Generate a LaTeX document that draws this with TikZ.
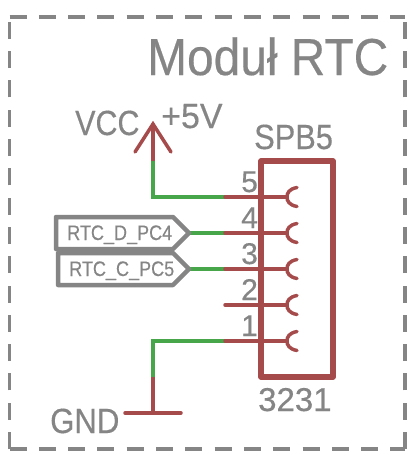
\documentclass[tikz,border=0pt]{standalone}
\usepackage{fontspec}
\setmainfont{Liberation Sans}
\definecolor{wirered}{HTML}{A54B4B}
\definecolor{wiregreen}{HTML}{47A64A}
\definecolor{ink}{HTML}{858585}
\tikzset{
  redline/.style={draw=wirered,line width=3.5pt,line cap=round},
  greenline/.style={draw=wiregreen,line width=3.5pt,line join=miter},
  framebox/.style={draw=ink,line width=3.5pt,dash pattern=on 17pt off 12.3pt},
  flagbox/.style={draw=ink,line width=4.5pt,line join=round},
  txt/.style={text=ink,inner sep=0pt,anchor=base west}
}
\newcommand{\fsz}[2]{\fontsize{#1pt}{#1pt}\selectfont\addfontfeature{FakeBold=0.35,FakeStretch=#2}}
\begin{document}
\begin{tikzpicture}[x=1pt,y=-1pt]
\useasboundingbox (0,0) rectangle (417,461);
\fill[white] (0,0) rectangle (417,461);
% frame
\coordinate (fBL) at (9.5,449);
\coordinate (fBR) at (405,449);
\coordinate (fTL) at (9.5,17);
\coordinate (fTR) at (405,17);
\draw[framebox] (fBL) -- (fBR);
\draw[framebox] (fTL) -- (fTR);
\draw[framebox] (fBL) -- (fTL);
\draw[framebox] (fBR) -- (fTR);
% points
\foreach \n/\y in {5/197,4/233,3/269,2/305,1/341}{
  \coordinate (s\n) at (225,\y);
  \coordinate (e\n) at (287,\y);
}
\coordinate (vccT) at (153,124);
\coordinate (vccB) at (153,161);
\coordinate (vccL) at (135,152);
\coordinate (vccR) at (171,152);
\coordinate (gndT) at (153,377);
\coordinate (gndB) at (153,413);
\coordinate (gndL) at (125,413);
\coordinate (gndR) at (181,413);
\coordinate (elbow5) at (153,197);
\coordinate (elbow1) at (153,341);
\coordinate (tipD) at (189,233);
\coordinate (tipC) at (189,269);
% green wires
\draw[greenline] (vccB) -- (elbow5) -- (s5);
\draw[greenline] (tipD) -- (s4);
\draw[greenline] (tipC) -- (s3);
\draw[greenline] (s1) -- (elbow1) -- (gndT);
% red symbols
\draw[redline,line cap=butt] (vccT) -- (vccB);
\draw[redline,line join=miter] (vccL) -- (vccT) -- (vccR);
\draw[redline,line cap=butt] (gndT) -- (gndB);
\draw[redline] (gndL) -- (gndR);
% connector
\draw[draw=wirered,line width=5.5pt,line join=round] (261,161) rectangle (333,377);
\foreach \n in {5,4,3,2,1}{
  \draw[redline] (s\n) -- (e\n);
  \draw[redline] ([xshift=10pt,yshift=-9.5pt]e\n) .. controls ([xshift=2pt,yshift=-8pt]e\n) and ([xshift=0pt,yshift=-4pt]e\n) .. (e\n)
     .. controls ([xshift=0pt,yshift=4pt]e\n) and ([xshift=2pt,yshift=8pt]e\n) .. ([xshift=10pt,yshift=9.5pt]e\n);
}
% flags
\draw[flagbox] (56,217) -- (173,217) -- (tipD) -- (173,249) -- (56,249) -- cycle;
\draw[flagbox] (58,253) -- (173,253) -- (tipC) -- (173,285) -- (58,285) -- cycle;
% texts
\node[txt] (title) at (147,75) {\fsz{52}{0.92}Moduł RTC};
\node[txt] (vcc) at (75,135) {\fsz{35}{0.87}VCC};
\node[txt] (plus) at (161,128) {\fsz{35}{0.97}+5V};
\node[txt] (spb) at (254,149) {\fsz{35}{0.88}SPB5};
\node[txt] (val) at (258,411) {\fsz{33}{1}3231};
\node[txt] (gnd) at (50,433) {\fsz{35}{0.89}GND};
\node[txt] (sigD) at (67,240) {\fsz{21}{0.86}RTC\_D\_PC4};
\node[txt] (sigC) at (69,276) {\fsz{21}{0.86}RTC\_C\_PC5};
\node[txt] (n5) at (241,192) {\fsz{30}{1}5};
\node[txt] (n4) at (241,228) {\fsz{30}{1}4};
\node[txt] (n3) at (241,264) {\fsz{30}{1}3};
\node[txt] (n2) at (241,300) {\fsz{30}{1}2};
\node[txt] (n1) at (241,336) {\fsz{30}{1}1};
\end{tikzpicture}
\end{document}
